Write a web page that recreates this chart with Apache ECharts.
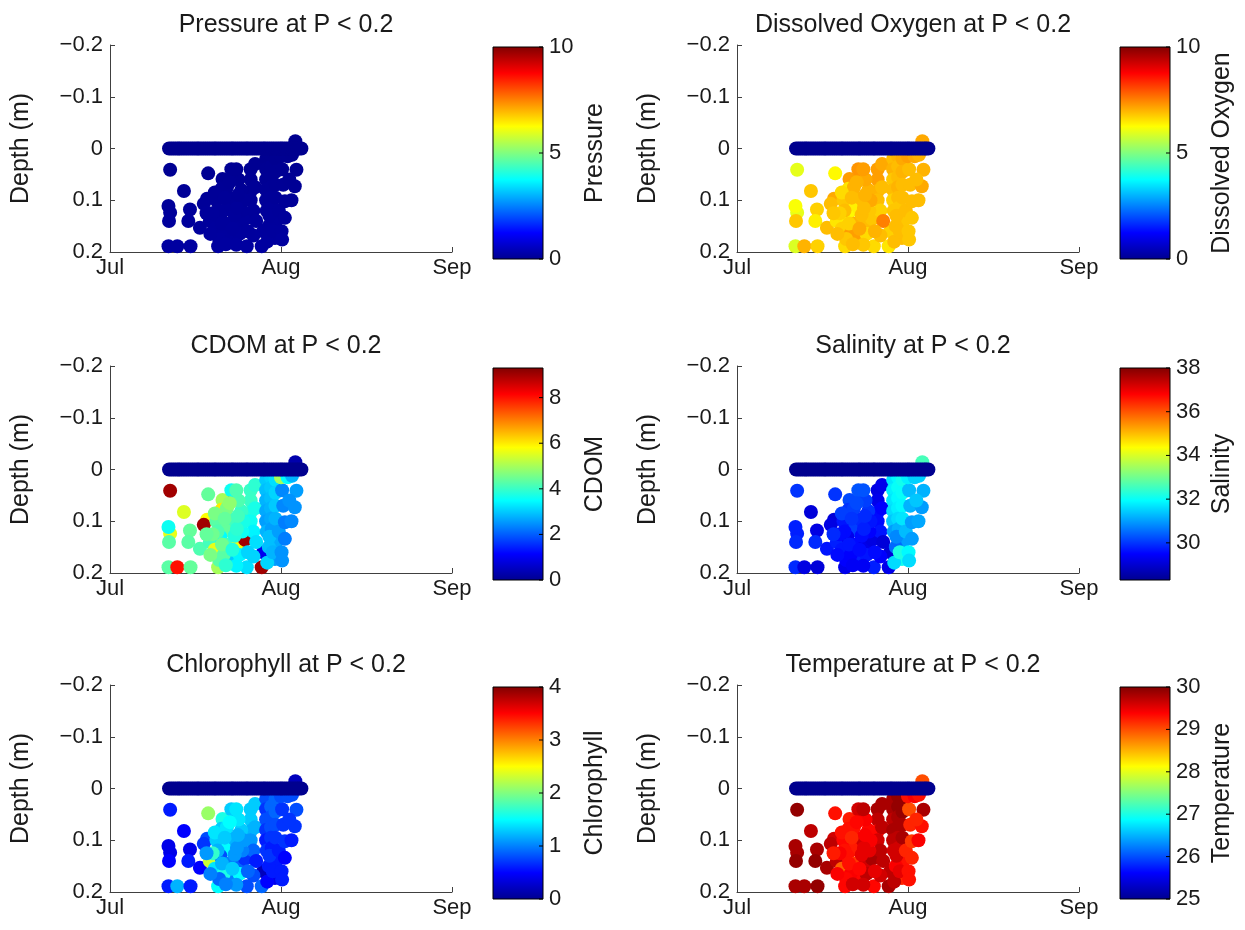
<!DOCTYPE html>
<html><head><meta charset="utf-8">
<script src="https://cdn.jsdelivr.net/npm/echarts@6/dist/echarts.min.js"></script>
<style>html,body{margin:0;padding:0;background:#fff}#c{width:1245px;height:930px}</style>
</head><body><div id="c"></div>
<script>
// ---- tick labels ----
const monthTicks = ['Jul', 'Aug', 'Sep'];          // at 0, 31, 62 days after 1 Jul
const depthTicks = [-0.2, -0.1, 0, 0.1, 0.2];

// ---- panels ----
const panelTitles = ['Pressure at P < 0.2', 'Dissolved Oxygen at P < 0.2', 'CDOM at P < 0.2',
  'Salinity at P < 0.2', 'Chlorophyll at P < 0.2', 'Temperature at P < 0.2'];
const colorbarNames = ['Pressure', 'Dissolved Oxygen', 'CDOM', 'Salinity', 'Chlorophyll', 'Temperature'];
const colorMin = [0, 0, 0, 28.3, 0, 25];
const colorMax = [10, 10, 9.3, 38, 4, 30];
const colorTicks = [[0, 5, 10], [0, 5, 10], [0, 2, 4, 6, 8], [30, 32, 34, 36, 38], [0, 1, 2, 3, 4], [25, 26, 27, 28, 29, 30]];

// ---- observations below / near the surface (days after 1 Jul, depth in m) ----
const obsDay = [10.9, 13.4, 10.9, 10.6, 10.7, 14.5, 14.2, 16.3, 10.6, 12.2, 14.6, 17.8, 19.6,
  17.6, 17.0, 18.1, 19.0, 22.5, 20.4, 20.2, 22.0, 21.8, 21.0, 20.0, 21.4, 21.8, 22.6, 23.3, 24.5,
  24.8, 27.5, 27.8, 25.5, 25.5, 25.5, 25.5, 26.0, 24.0, 23.5, 26.5, 26.0, 23.8, 23.3, 19.3, 19.5,
  20.6, 22.6, 22.9, 22.8, 18.6, 21.2, 24.2, 25.0,
  19.0, 20.8, 21.7, 22.9, 23.0, 20.3, 19.8, 21.0, 22.2, 17.5, 18.2, 23.2, 26.3, 26.3,
  28.3, 28.3, 28.3, 28.3, 28.3, 28.4, 29.2, 29.2, 29.2, 29.2, 29.2, 29.3, 30.0, 30.0, 30.0, 30.0,
  30.1, 29.9, 28.8, 28.5, 29.5, 28.9, 30.6,
  31.1, 31.7, 31.7, 31.4, 31.2, 33.8, 33.5, 31.2, 32.5, 32.9, 31.0, 32.2, 33.0, 33.6];
const obsDepth = [0.041, 0.082, 0.124, 0.111, 0.140, 0.118, 0.140, 0.153, 0.189, 0.189, 0.189, 0.048, 0.189,
  0.097, 0.107, 0.140, 0.155, 0.056, 0.059, 0.078, 0.040, 0.097, 0.118, 0.130, 0.145, 0.160, 0.178, 0.145, 0.136,
  0.189, 0.189, 0.160, 0.040, 0.060, 0.082, 0.100, 0.120, 0.120, 0.165, 0.140, 0.168, 0.080, 0.060, 0.100, 0.120,
  0.165, 0.128, 0.186, 0.100, 0.125, 0.075, 0.100, 0.160,
  0.085, 0.095, 0.065, 0.040, 0.115, 0.145, 0.175, 0.185, 0.155, 0.125, 0.165, 0.090, 0.030, 0.075,
  0.020, 0.040, 0.060, 0.080, 0.100, 0.120, 0.015, 0.035, 0.055, 0.075, 0.095, 0.115, 0.020, 0.045, 0.070, 0.095,
  0.140, 0.173, 0.150, 0.180, 0.160, 0.130, 0.120,
  0.160, 0.134, 0.102, 0.070, 0.040, 0.041, 0.073, 0.176, 0.060, 0.100, 0.015, 0.015, 0.012, -0.014];
const pressure = [0.04, 0.08, 0.12, 0.11, 0.14, 0.12, 0.14, 0.15, 0.19, 0.19, 0.19, 0.05, 0.19,
  0.10, 0.11, 0.14, 0.16, 0.06, 0.06, 0.08, 0.04, 0.10, 0.12, 0.13, 0.15, 0.16, 0.18, 0.15, 0.14,
  0.19, 0.19, 0.16, 0.04, 0.06, 0.08, 0.10, 0.12, 0.12, 0.17, 0.14, 0.17, 0.08, 0.06, 0.10, 0.12,
  0.17, 0.13, 0.19, 0.10, 0.13, 0.08, 0.10, 0.16,
  0.09, 0.10, 0.07, 0.04, 0.12, 0.15, 0.18, 0.19, 0.16, 0.13, 0.17, 0.09, 0.03, 0.08,
  0.02, 0.04, 0.06, 0.08, 0.10, 0.12, 0.02, 0.04, 0.06, 0.08, 0.10, 0.12, 0.02, 0.05, 0.07, 0.10,
  0.14, 0.17, 0.15, 0.18, 0.16, 0.13, 0.12,
  0.16, 0.13, 0.10, 0.07, 0.04, 0.04, 0.07, 0.18, 0.06, 0.10, 0.02, 0.02, 0.01, 0.00];
const oxygen = [6.0, 6.8, 6.0, 6.2, 6.8, 6.7, 6.4, 6.9, 5.9, 7.0, 6.7, 6.3, 6.6,
  7.1, 6.9, 6.5, 6.7, 7.2, 7.2, 6.5, 7.3, 6.9, 6.4, 6.3, 7.0, 6.9, 7.2, 6.9, 6.8,
  6.6, 6.5, 6.7, 7.2, 7.2, 7.0, 6.9, 6.7, 6.8, 6.6, 7.5, 6.9, 7.0, 7.1, 6.8, 6.9,
  7.2, 6.9, 6.8, 6.9, 6.7, 7.0, 7.1, 7.0,
  6.6, 6.9, 7.0, 7.2, 6.9, 6.7, 6.8, 6.9, 7.1, 6.8, 6.9, 7.0, 7.1, 6.9,
  6.9, 7.0, 6.8, 6.9, 6.7, 6.8, 7.0, 6.9, 6.9, 7.0, 6.9, 6.8, 7.1, 7.0, 6.9, 6.9,
  6.8, 6.9, 6.9, 6.9, 6.9, 6.9, 6.9,
  6.8, 6.8, 6.9, 6.9, 6.9, 7.0, 7.1, 6.8, 6.9, 6.9, 7.2, 7.1, 7.0, 7.1];
const cdom = [9.0, 5.5, 5.6, 3.6, 4.3, 4.4, 4.3, 4.2, 4.3, 8.0, 4.4, 4.4, 5.0,
  5.8, 9.0, 4.1, 5.6, 9.0, 5.0, 6.0, 3.6, 4.2, 4.4, 3.5, 4.1, 3.7, 3.0, 5.7, 9.0,
  3.2, 9.0, 1.0, 4.0, 4.0, 3.8, 3.6, 3.4, 3.6, 3.4, 3.2, 3.1, 4.0, 4.2, 4.3, 4.2,
  4.3, 3.8, 3.4, 4.1, 4.5, 4.6, 3.7, 3.1,
  4.6, 4.4, 4.8, 4.2, 3.9, 4.5, 4.3, 3.9, 3.8, 4.4, 4.6, 4.1, 3.9, 3.7,
  3.0, 2.9, 2.8, 2.7, 2.6, 2.8, 3.1, 3.0, 2.9, 2.8, 2.7, 2.6, 3.2, 3.1, 3.0, 2.8,
  2.7, 2.6, 2.9, 3.1, 2.8, 2.9, 2.6,
  2.5, 2.3, 2.3, 2.4, 2.4, 2.6, 2.5, 2.5, 2.5, 2.4, 5.0, 3.5, 2.8, 0.3];
const salinity = [30.0, 29.1, 29.8, 29.8, 29.9, 29.2, 29.9, 29.7, 29.9, 29.2, 29.1, 30.0, 29.3,
  29.1, 29.2, 29.8, 29.7, 30.2, 30.2, 30.0, 30.3, 29.9, 30.1, 29.3, 29.6, 29.8, 29.8, 29.3, 29.2,
  29.8, 29.3, 29.1, 29.2, 29.3, 29.6, 29.6, 29.7, 29.5, 29.7, 29.1, 29.5, 30.0, 30.1, 29.7, 29.6,
  29.5, 29.6, 29.4, 29.9, 29.6, 30.1, 29.7, 29.6,
  30.1, 30.0, 30.2, 30.3, 29.8, 29.7, 29.5, 29.4, 29.6, 29.9, 29.6, 29.9, 29.3, 29.5,
  31.7, 31.8, 31.7, 31.6, 31.4, 31.0, 31.9, 32.0, 31.9, 31.8, 31.6, 31.2, 32.1, 32.0, 31.9, 31.7,
  31.0, 32.1, 30.5, 31.6, 32.2, 30.8, 31.3,
  31.9, 31.0, 31.0, 31.2, 31.3, 31.2, 31.0, 31.6, 31.4, 31.1, 31.8, 31.5, 31.5, 32.6];
const chlorophyll = [0.6, 0.5, 0.4, 0.4, 0.5, 0.4, 0.6, 0.5, 0.6, 1.2, 0.6, 2.1, 1.5,
  0.8, 0.7, 2.3, 1.4, 2.8, 1.6, 1.3, 1.3, 1.2, 1.5, 0.8, 1.0, 1.5, 1.0, 0.9, 0.7,
  0.8, 0.9, 0.2, 1.3, 1.3, 1.2, 1.1, 0.9, 1.0, 1.5, 0.6, 0.8, 1.3, 1.4, 1.3, 1.2,
  1.6, 1.1, 1.1, 1.2, 1.7, 1.4, 1.1, 0.9,
  1.4, 1.3, 1.5, 1.4, 1.1, 1.2, 0.9, 1.0, 1.3, 1.1, 1.0, 1.2, 1.3, 1.2,
  0.8, 0.7, 0.8, 0.7, 0.6, 0.7, 0.8, 0.9, 0.8, 0.8, 0.7, 0.6, 0.9, 0.9, 0.8, 0.7,
  0.6, 0.4, 0.6, 0.5, 0.6, 0.7, 0.6,
  0.6, 0.5, 0.7, 0.7, 0.7, 0.8, 0.7, 0.6, 0.7, 0.6, 0.8, 0.8, 0.8, 0.2];
const temperature = [29.9, 29.7, 29.8, 29.8, 29.9, 29.8, 29.9, 29.8, 29.8, 29.8, 29.9, 29.3, 29.35,
  29.6, 29.7, 29.7, 28.9, 29.4, 29.25, 29.3, 29.6, 29.35, 29.25, 29.3, 29.1, 29.4, 29.35, 29.6, 29.8,
  29.35, 29.8, 29.7, 29.8, 29.7, 29.35, 29.6, 29.7, 29.5, 29.7, 29.7, 29.6, 29.35, 29.4, 29.35, 29.3,
  29.4, 29.5, 29.6, 29.6, 29.4, 29.3, 29.4, 29.5,
  29.3, 29.2, 29.35, 29.7, 29.5, 29.3, 29.35, 29.6, 29.35, 29.25, 29.4, 29.4, 29.8, 29.7,
  29.8, 29.8, 29.7, 29.8, 29.7, 29.6, 29.9, 29.9, 29.8, 29.8, 29.7, 29.6, 29.9, 29.9, 29.8, 29.8,
  29.3, 29.2, 29.4, 29.7, 29.5, 29.6, 29.2,
  29.3, 29.2, 29.1, 29.2, 29.0, 29.8, 29.3, 29.3, 29.2, 29.4, 29.3, 29.4, 29.3, 29.0];

// ---- surface samples (depth 0, value 0 -> bottom of the colour map in every panel) ----
const surfaceDay = [10.7, 11.1, 11.5, 11.9, 12.3, 12.6, 13.0, 13.4, 13.8, 14.2, 14.6, 15.0, 15.4, 15.8,
  16.1, 16.5, 16.9, 17.3, 17.7, 18.1, 18.5, 18.9, 19.2, 19.6, 20.0, 20.4, 20.8, 21.2, 21.6, 22.0,
  22.3, 22.7, 23.1, 23.5, 23.9, 24.3, 24.7, 25.0, 25.4, 25.8, 26.2, 26.6, 27.0, 27.4, 27.8, 28.1,
  28.5, 28.9, 29.3, 29.7, 30.1, 30.5, 30.9, 31.2, 31.6, 32.0, 32.4, 32.8, 33.2, 33.6, 34.0, 34.3, 34.7];

const panelValues = [pressure, oxygen, cdom, salinity, chlorophyll, temperature];

// MATLAB jet
const jet = ['#00008f', '#0000ff', '#0080ff', '#00ffff', '#80ff80', '#ffff00', '#ff8000', '#ff0000', '#800000'];

const FONT = 'Liberation Sans, Arial, Helvetica, sans-serif';
const TXT = '#1a1a1a';
const AX = '#404040';
const TICK_FS = 22, LABEL_FS = 25;
const colLeft = [110, 737], rowTop = [45, 366, 685];
const cbLeft = [493, 1120];
const PW = 342, PH = 207;

const grid = [], xAxis = [], yAxis = [], series = [], visualMap = [], title = [];

function fmtDepth(v) {
  if (Math.abs(v) < 1e-9) return '0';
  return (v < 0 ? '\u2212' : '') + Math.abs(v).toFixed(1);
}

for (let i = 0; i < 6; i++) {
  const col = i % 2, row = Math.floor(i / 2);
  const L = colLeft[col], T = rowTop[row];
  // scatter grid
  grid.push({ left: L, top: T, width: PW, height: PH });
  xAxis.push({
    gridIndex: 2 * i, type: 'value', min: 0, max: 62, interval: 31,
    axisLine: { show: true, onZero: false, lineStyle: { color: AX, width: 1 } },
    axisTick: { show: true, inside: true, length: 5, lineStyle: { color: AX } },
    axisLabel: { formatter: v => monthTicks[Math.round(v / 31)], fontSize: TICK_FS, color: TXT, fontFamily: FONT, margin: 5 },
    splitLine: { show: false }
  });
  yAxis.push({
    gridIndex: 2 * i, type: 'value', inverse: true, min: depthTicks[0], max: depthTicks[depthTicks.length - 1], interval: 0.1,
    name: 'Depth (m)', nameLocation: 'middle', nameRotate: 90, nameGap: 76,
    nameTextStyle: { fontSize: LABEL_FS, color: TXT, fontFamily: FONT },
    axisLine: { show: true, onZero: false, lineStyle: { color: AX, width: 1 } },
    axisTick: { show: true, inside: true, length: 5, lineStyle: { color: AX } },
    axisLabel: { formatter: fmtDepth, fontSize: TICK_FS, color: TXT, fontFamily: FONT, margin: 7 },
    splitLine: { show: false }
  });
  // colorbar grid
  grid.push({ left: cbLeft[col], top: T + 2, width: 50, height: 212 });
  xAxis.push({ gridIndex: 2 * i + 1, type: 'value', min: 0, max: 1, show: false });
  yAxis.push({
    gridIndex: 2 * i + 1, type: 'value', position: 'right', min: colorMin[i], max: colorMax[i], z: 10,
    name: colorbarNames[i], nameLocation: 'middle', nameRotate: 90, nameGap: 40,
    nameTextStyle: { fontSize: LABEL_FS, color: TXT, fontFamily: FONT },
    axisLine: { show: false },
    axisTick: { show: false },
    axisLabel: { customValues: colorTicks[i], fontSize: TICK_FS, color: TXT, fontFamily: FONT, margin: 6 },
    splitLine: { show: false }
  });
  title.push({
    text: panelTitles[i], left: L + PW / 2, top: T - 37, textAlign: 'center',
    textStyle: { fontSize: LABEL_FS, fontWeight: 'normal', color: TXT, fontFamily: FONT }
  });
  const vals = panelValues[i];
  const sIdx = series.length;
  series.push({
    type: 'scatter', xAxisIndex: 2 * i, yAxisIndex: 2 * i, symbolSize: 14,
    data: obsDay.map((d, k) => [d, obsDepth[k], vals[k]]),
    itemStyle: { opacity: 1 }, animation: false, silent: true
  });
  series.push({
    type: 'scatter', xAxisIndex: 2 * i, yAxisIndex: 2 * i, symbolSize: 14,
    data: surfaceDay.map(d => [d, 0]),
    itemStyle: { color: jet[0], opacity: 1 }, animation: false, silent: true
  });
  visualMap.push({
    type: 'continuous', show: false, seriesIndex: sIdx, dimension: 2,
    min: colorMin[i], max: colorMax[i], inRange: { color: jet }
  });
  const stops = jet.slice().reverse().map((c, k) => ({ offset: k / (jet.length - 1), color: c }));
  const ticks = colorTicks[i];
  series.push({
    type: 'custom', xAxisIndex: 2 * i + 1, yAxisIndex: 2 * i + 1, animation: false, silent: true, z: 1,
    data: [[0, colorMin[i], 1, colorMax[i]]],
    renderItem: (params, api) => {
      const p0 = api.coord([api.value(0), api.value(3)]);
      const p1 = api.coord([api.value(2), api.value(1)]);
      const children = [{
        type: 'rect',
        shape: { x: p0[0], y: p0[1], width: p1[0] - p0[0], height: p1[1] - p0[1] },
        style: { fill: new echarts.graphic.LinearGradient(0, 0, 0, 1, stops), stroke: '#000', lineWidth: 1 }
      }];
      ticks.forEach(t => {
        const p = api.coord([1, t]);
        children.push({ type: 'line', shape: { x1: p[0] - 4, y1: p[1], x2: p[0], y2: p[1] },
          style: { stroke: '#000', lineWidth: 1 } });
      });
      return { type: 'group', children };
    }
  });
}

const chart = echarts.init(document.getElementById('c'), null, { renderer: 'canvas' });
chart.setOption({ backgroundColor: '#fff', animation: false, title, grid, xAxis, yAxis, visualMap, series });
</script></body></html>
